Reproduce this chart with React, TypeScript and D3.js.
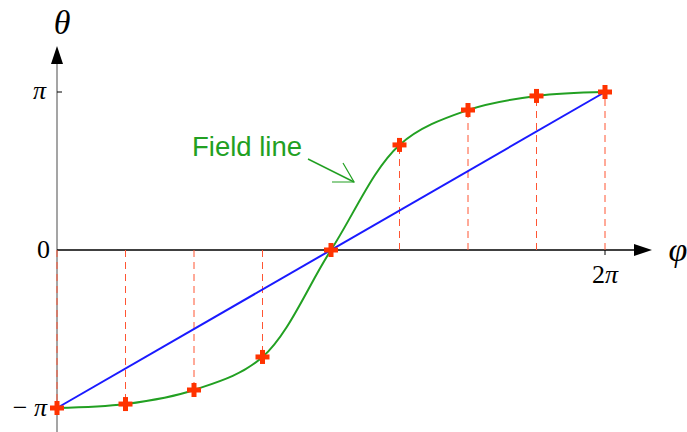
import React from "react";
import * as d3 from "d3";

// Sample angles φ = kπ/4 and field-line values θ (in units of π)
const phiSteps = [0, 1, 2, 3, 4, 5, 6, 7, 8];
const thetaField = [-1, -0.975, -0.886, -0.677, 0, 0.665, 0.886, 0.975, 1];
const straightLine = [-1, 1];

const W = 687;
const H = 432;

export default function App() {
  const x = d3.scaleLinear().domain([0, 8]).range([57, 605]);
  const y = d3.scaleLinear().domain([-1, 1]).range([408, 92]);

  const pts: [number, number][] = phiSteps.map((p, i) => [x(p), y(thetaField[i])]);
  const field = d3.line().curve(d3.curveCatmullRom.alpha(0.5))(pts) || "";
  const straight = d3.line()([[x(0), y(straightLine[0])], [x(8), y(straightLine[1])]]) || "";

  const y0 = y(0);
  const serif = "'Liberation Serif', 'DejaVu Serif', serif";
  const cross = (cx: number, cy: number, k: number) => (
    <g key={k} transform={`translate(${cx},${cy})`} fill="#ff3300">
      <rect x={-7} y={-2.5} width={14} height={5} />
      <rect x={-2.5} y={-7} width={5} height={14} />
    </g>
  );

  return (
    <svg width={W} height={H} style={{ position: "absolute", left: 0, top: 0, background: "#fff" }}>
      {/* y axis */}
      <line x1={x(0)} y1={H} x2={x(0)} y2={62} stroke="#a5a5a5" strokeWidth={2} />
      <path d={`M${x(0)},46 L${x(0) - 6},64 L${x(0) + 6},64 Z`} fill="#000" />
      {/* x axis */}
      <line x1={x(0)} y1={y0} x2={636} y2={y0} stroke="#000" strokeWidth={1.3} />
      <path d={`M652,${y0} L634,${y0 - 6} L634,${y0 + 6} Z`} fill="#000" />
      {/* ticks */}
      <line x1={x(0)} y1={y(1)} x2={x(0) + 5} y2={y(1)} stroke="#000" strokeWidth={1} />
      <line x1={x(8)} y1={y0} x2={x(8)} y2={y0 + 5} stroke="#000" strokeWidth={1} />

      {/* dashed drops */}
      {phiSteps.map((p, i) => (
        <line key={i} x1={x(p)} y1={y0} x2={x(p)} y2={y(thetaField[i])}
          stroke="#ff5533" strokeWidth={1} strokeDasharray="7,5" />
      ))}

      <path d={straight} fill="none" stroke="#1a1aff" strokeWidth={2} />
      <path d={field} fill="none" stroke="#22a022" strokeWidth={2} />
      {pts.map((p, i) => cross(p[0], p[1], i))}

      {/* annotation */}
      <text x={192} y={156} fontFamily="Arial, 'Liberation Sans', sans-serif" fontSize={27.5} fill="#22a022">Field line</text>
      <line x1={308} y1={159} x2={354} y2={182} stroke="#22a022" strokeWidth={1.5} />
      <path d="M332,182 L354,182 L343,163" fill="none" stroke="#22a022" strokeWidth={1.2} />

      {/* labels */}
      <text x={62} y={34} fontFamily={serif} fontStyle="italic" fontSize={34} textAnchor="middle">θ</text>
      <text x={678} y={261} fontFamily={serif} fontStyle="italic" fontSize={34} textAnchor="middle">φ</text>
      <text x={46} y={y(1) + 7} fontFamily={serif} fontStyle="italic" fontSize={26} textAnchor="end">π</text>
      <text x={50} y={y0 + 8} fontFamily={serif} fontSize={26} textAnchor="end">0</text>
      <text x={47} y={y(-1) + 8} fontFamily={serif} fontSize={26} textAnchor="end">
        <tspan>− </tspan><tspan fontStyle="italic">π</tspan>
      </text>
      <text x={x(8)} y={y0 + 33} fontFamily={serif} fontSize={26} textAnchor="middle">
        <tspan>2</tspan><tspan fontStyle="italic">π</tspan>
      </text>
    </svg>
  );
}
